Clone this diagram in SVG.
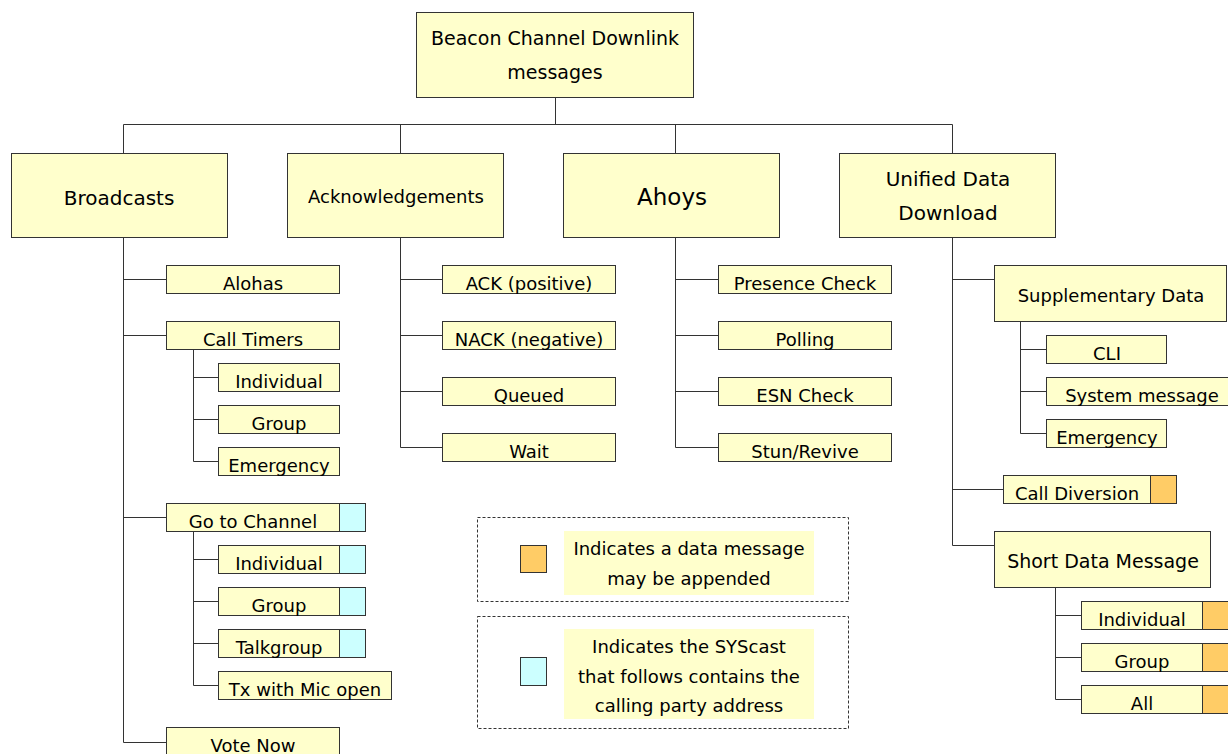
<svg xmlns="http://www.w3.org/2000/svg" width="1228" height="754" viewBox="0 0 1228 754">
<style>
text{font-family:"DejaVu Sans",sans-serif;font-size:18px;fill:#000;text-anchor:middle}
text.f19{font-size:19px}
text.f20{font-size:20px}
text.f23{font-size:23px}
.box{fill:#FFFFCC;stroke:#333;stroke-width:1}
.cy{fill:#CCFFFF;stroke:#333;stroke-width:1}
.or{fill:#FFCC66;stroke:#333;stroke-width:1}
.dash{fill:none;stroke:#333;stroke-width:1;stroke-dasharray:3 2}
.bg{fill:#FFFFCC;stroke:none}
#connectors path{fill:none;stroke:#333;stroke-width:1}
</style>
<rect width="1228" height="754" fill="#fff"/>
<g id="connectors">
<path d="M555.5 97.5V124.5M123.5 124.5H952.5M123.5 124.5V153.5M400.5 124.5V153.5M675.5 124.5V153.5M952.5 124.5V153.5"/>
<path d="M123.5 237.5V742.5M123.5 279.5H166.5M123.5 335.5H166.5M123.5 517.5H166.5M123.5 742.5H166.5"/>
<path d="M193.5 349.5V461.5M193.5 377.5H218.5M193.5 419.5H218.5M193.5 461.5H218.5"/>
<path d="M193.5 531.5V685.5M193.5 559.5H218.5M193.5 601.5H218.5M193.5 643.5H218.5M193.5 685.5H218.5"/>
<path d="M400.5 237.5V447.5M400.5 279.5H442.5M400.5 335.5H442.5M400.5 391.5H442.5M400.5 447.5H442.5"/>
<path d="M675.5 237.5V447.5M675.5 279.5H718.5M675.5 335.5H718.5M675.5 391.5H718.5M675.5 447.5H718.5"/>
<path d="M952.5 237.5V545.5M952.5 279.5H994.5M952.5 489.5H1003.5M952.5 545.5H994.5"/>
<path d="M1020.5 321.5V433.5M1020.5 349.5H1046.5M1020.5 391.5H1046.5M1020.5 433.5H1046.5"/>
<path d="M1055.5 587.5V699.5M1055.5 615.5H1081.5M1055.5 657.5H1081.5M1055.5 699.5H1081.5"/>
</g>
<g id="root"><rect class="box" x="416.5" y="12.5" width="277" height="85"/><text class="f19" x="555" y="45">Beacon Channel Downlink</text><text class="f19" x="555" y="79">messages</text></g>
<g id="broadcasts"><rect class="box" x="11.5" y="153.5" width="216" height="84"/><text class="f20" x="119" y="205">Broadcasts</text></g>
<g id="acks"><rect class="box" x="287.5" y="153.5" width="216" height="84"/><text x="396" y="203">Acknowledgements</text></g>
<g id="ahoys"><rect class="box" x="563.5" y="153.5" width="216" height="84"/><text class="f23" x="672" y="205">Ahoys</text></g>
<g id="udd"><rect class="box" x="839.5" y="153.5" width="216" height="84"/><text class="f20" x="948" y="186">Unified Data</text><text class="f20" x="948" y="220">Download</text></g>

<g id="alohas"><rect class="box" x="166.5" y="265.5" width="173" height="28"/><text x="253" y="290">Alohas</text></g>
<g id="calltimers"><rect class="box" x="166.5" y="321.5" width="173" height="28"/><text x="253" y="346">Call Timers</text></g>
<g id="ct-individual"><rect class="box" x="218.5" y="363.5" width="121" height="28"/><text x="279" y="388">Individual</text></g>
<g id="ct-group"><rect class="box" x="218.5" y="405.5" width="121" height="28"/><text x="279" y="430">Group</text></g>
<g id="ct-emergency"><rect class="box" x="218.5" y="447.5" width="121" height="28"/><text x="279" y="472">Emergency</text></g>
<g id="gotochannel"><rect class="box" x="166.5" y="503.5" width="173" height="28"/><rect class="cy" x="339.5" y="503.5" width="26" height="28"/><text x="253" y="528">Go to Channel</text></g>
<g id="gc-individual"><rect class="box" x="218.5" y="545.5" width="121" height="28"/><rect class="cy" x="339.5" y="545.5" width="26" height="28"/><text x="279" y="570">Individual</text></g>
<g id="gc-group"><rect class="box" x="218.5" y="587.5" width="121" height="28"/><rect class="cy" x="339.5" y="587.5" width="26" height="28"/><text x="279" y="612">Group</text></g>
<g id="gc-talkgroup"><rect class="box" x="218.5" y="629.5" width="121" height="28"/><rect class="cy" x="339.5" y="629.5" width="26" height="28"/><text x="279" y="654">Talkgroup</text></g>
<g id="gc-tx"><rect class="box" x="218.5" y="671.5" width="173" height="28"/><text x="305" y="696">Tx with Mic open</text></g>
<g id="votenow"><rect class="box" x="166.5" y="727.5" width="173" height="28"/><text x="253" y="752">Vote Now</text></g>

<g id="ack"><rect class="box" x="442.5" y="265.5" width="173" height="28"/><text x="529" y="290">ACK (positive)</text></g>
<g id="nack"><rect class="box" x="442.5" y="321.5" width="173" height="28"/><text x="529" y="346">NACK (negative)</text></g>
<g id="queued"><rect class="box" x="442.5" y="377.5" width="173" height="28"/><text x="529" y="402">Queued</text></g>
<g id="wait"><rect class="box" x="442.5" y="433.5" width="173" height="28"/><text x="529" y="458">Wait</text></g>

<g id="presence"><rect class="box" x="718.5" y="265.5" width="173" height="28"/><text x="805" y="290">Presence Check</text></g>
<g id="polling"><rect class="box" x="718.5" y="321.5" width="173" height="28"/><text x="805" y="346">Polling</text></g>
<g id="esn"><rect class="box" x="718.5" y="377.5" width="173" height="28"/><text x="805" y="402">ESN Check</text></g>
<g id="stun"><rect class="box" x="718.5" y="433.5" width="173" height="28"/><text x="805" y="458">Stun/Revive</text></g>

<g id="suppdata"><rect class="box" x="994.5" y="265.5" width="232" height="56"/><text x="1111" y="302">Supplementary Data</text></g>
<g id="cli"><rect class="box" x="1046.5" y="335.5" width="120" height="28"/><text x="1107" y="360">CLI</text></g>
<g id="sysmsg"><rect class="box" x="1046.5" y="377.5" width="191" height="28"/><text x="1142" y="402">System message</text></g>
<g id="sd-emergency"><rect class="box" x="1046.5" y="419.5" width="120" height="28"/><text x="1107" y="444">Emergency</text></g>
<g id="calldiv"><rect class="box" x="1003.5" y="475.5" width="147" height="28"/><rect class="or" x="1150.5" y="475.5" width="26" height="28"/><text x="1077" y="500">Call Diversion</text></g>
<g id="sdm"><rect class="box" x="994.5" y="531.5" width="216" height="56"/><text class="f19" x="1103" y="568">Short Data Message</text></g>
<g id="sdm-individual"><rect class="box" x="1081.5" y="601.5" width="121" height="28"/><rect class="or" x="1202.5" y="601.5" width="26" height="28"/><text x="1142" y="626">Individual</text></g>
<g id="sdm-group"><rect class="box" x="1081.5" y="643.5" width="121" height="28"/><rect class="or" x="1202.5" y="643.5" width="26" height="28"/><text x="1142" y="668">Group</text></g>
<g id="sdm-all"><rect class="box" x="1081.5" y="685.5" width="121" height="28"/><rect class="or" x="1202.5" y="685.5" width="26" height="28"/><text x="1142" y="710">All</text></g>

<g id="legend-data"><rect class="dash" x="477.5" y="517.5" width="371" height="84"/><rect class="or" x="520.5" y="545.5" width="26" height="27"/><rect class="bg" x="564" y="531" width="250" height="64"/><text x="689" y="555">Indicates a data message</text><text x="689" y="585">may be appended</text></g>
<g id="legend-syscast"><rect class="dash" x="477.5" y="616.5" width="371" height="112"/><rect class="cy" x="520.5" y="657.5" width="26" height="28"/><rect class="bg" x="564" y="629" width="250" height="90"/><text x="689" y="653">Indicates the SYScast</text><text x="689" y="683">that follows contains the</text><text x="689" y="712">calling party address</text></g>
</svg>
